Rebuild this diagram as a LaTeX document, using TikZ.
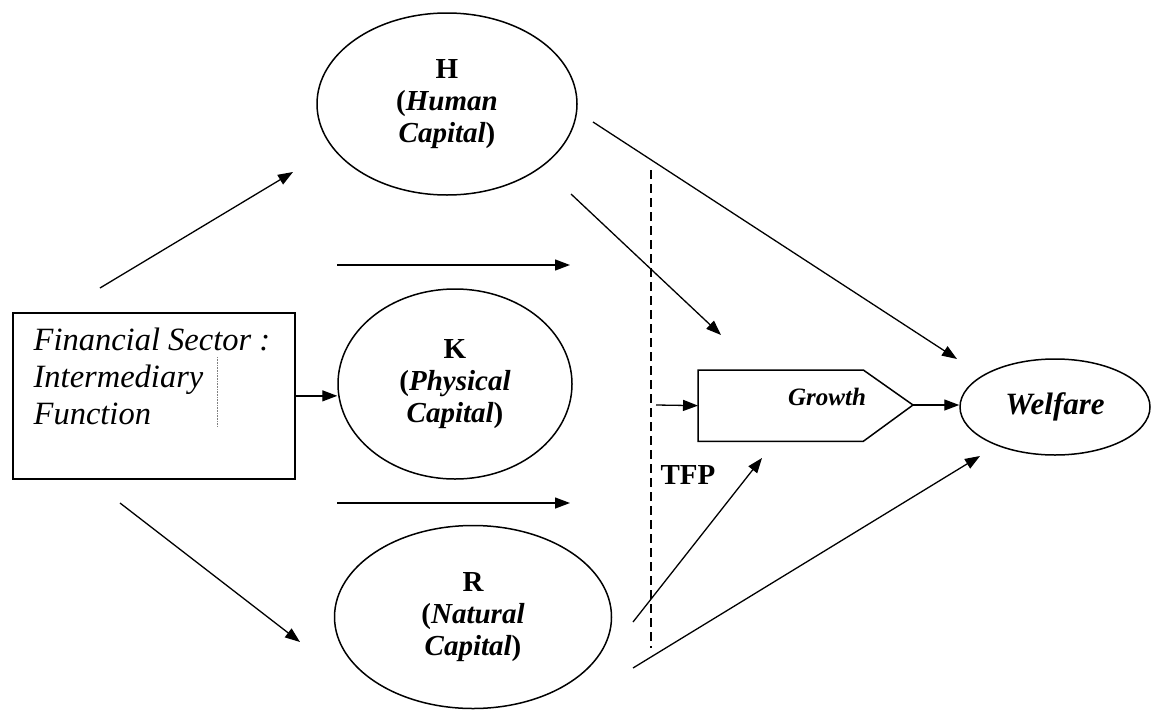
\documentclass[tikz,border=0pt]{standalone}
\usepackage{fontspec}
\setmainfont{Liberation Serif}
\usetikzlibrary{arrows.meta,shapes.geometric}

\begin{document}
\begin{tikzpicture}[x=1pt,y=-1pt,
  line width=1.3pt,
  arr/.style={-{Triangle[length=15pt,width=11pt]}, line width=1.3pt},
  capital/.style={draw, ellipse, inner sep=0pt, align=center, line width=1.5pt,
    font=\fontsize{29}{32}\selectfont\bfseries},
  label/.style={inner sep=0pt, font=\fontsize{29}{32}\selectfont\bfseries},
  tfpline/.style={line width=1.2pt, dash pattern=on 9pt off 5pt}
]
\useasboundingbox (0,0) rectangle (1153,712);

% financial sector box
\node[draw, line width=1.7pt, minimum width=282pt, minimum height=166pt,
      inner sep=0pt, anchor=north west] (fin) at (12,312) {};
\node[anchor=north west, align=left, inner sep=0pt,
      font=\fontsize{32.5}{37}\selectfont\itshape] (fintext) at (33,327)
  {Financial Sector :\\Intermediary\\Function};
\draw[line width=0.6pt, densely dotted, gray] (217,357) -- (217,427);

% the three kinds of capital
\node[capital, minimum width=260pt, minimum height=182pt] (H) at (447,104)
  {H\\(\textit{Human}\\\textit{Capital})};
\node[capital, minimum width=234pt, minimum height=190pt] (K) at (455,384)
  {K\\(\textit{Physical}\\\textit{Capital})};
\node[capital, minimum width=277pt, minimum height=183pt] (R) at (473,617)
  {R\\(\textit{Natural}\\\textit{Capital})};

% growth and welfare
\node[minimum width=164pt, minimum height=70pt, inner sep=0pt,
      anchor=north west] (growth) at (698,370) {};
\coordinate (tip) at (913,405);
\draw[line width=1.5pt] (growth.north west) -- (growth.north east) -- (tip)
  -- (growth.south east) -- (growth.south west) -- cycle;
\node[inner sep=0pt, font=\fontsize{25}{28}\selectfont\bfseries\itshape]
  (growthtext) at (827,397) {Growth};
\node[draw, ellipse, line width=1.5pt, minimum width=190pt, minimum height=96pt,
      inner sep=0pt, font=\fontsize{31}{34}\selectfont\bfseries\itshape]
  (welfare) at (1055,407) {Welfare};

% total factor productivity divider
\coordinate (dtop) at (651,170);
\coordinate (dbot) at (651,648);
\draw[tfpline] (dtop) -- (dbot);
\node[label] (tfp) at (688,475) {TFP};

% free-standing arrow ends
\coordinate (a1) at (100,288);  \coordinate (b1) at (293,172);
\coordinate (a2) at (337,265);  \coordinate (b2) at (570,265);
\coordinate (a4) at (337,503);  \coordinate (b4) at (570,503);
\coordinate (a5) at (120,503);  \coordinate (b5) at (300,642);
\coordinate (a6) at (593,122);  \coordinate (b6) at (957,359);
\coordinate (a7) at (571,194);  \coordinate (b7) at (721,335);
\coordinate (a9) at (656,405);
\coordinate (a11) at (633,622); \coordinate (b11) at (762,458);
\coordinate (a12) at (633,668); \coordinate (b12) at (980,456);

% connectors
\draw[arr] (a1) -- (b1);
\draw[arr] (a2) -- (b2);
\draw[arr] (fin.east) -- (fin.east -| K.west);
\draw[arr] (a4) -- (b4);
\draw[arr] (a5) -- (b5);
\draw[arr] (a6) -- (b6);
\draw[arr] (a7) -- (b7);
\draw[arr] (a9) -- (growth.west);
\draw[arr] (tip) -- (tip -| welfare.west);
\draw[arr] (a11) -- (b11);
\draw[arr] (a12) -- (b12);
\end{tikzpicture}
\end{document}
